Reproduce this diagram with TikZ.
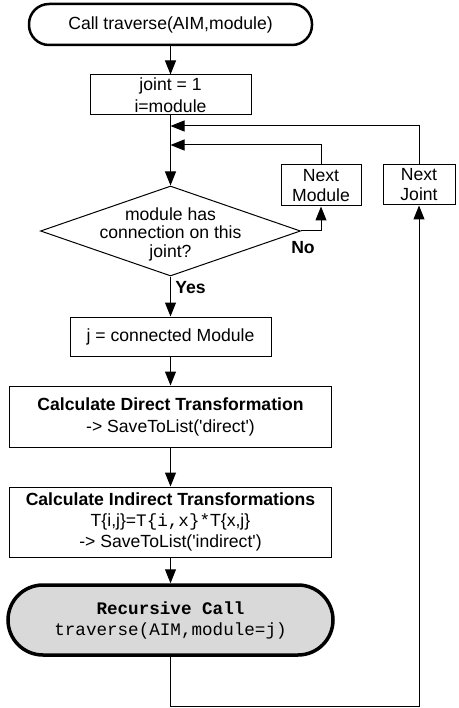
\documentclass[tikz,border=0pt]{standalone}
\usepackage{fontspec}
\setmainfont{Liberation Sans}
\setmonofont{Liberation Mono}
\usetikzlibrary{arrows.meta, shapes.geometric}

\definecolor{callgray}{HTML}{D9D9D9}

\begin{document}
\begin{tikzpicture}[x=1pt, y=-1pt, >={Triangle[length=14pt, width=11pt]}, line width=1pt,
  txt/.style={font=\fontsize{17.6}{22}\selectfont, align=center, inner sep=0pt},
  box/.style={txt, draw, line width=1pt},
  term/.style={txt, draw, line width=2.5pt, rounded corners=20pt},
  lbl/.style={font=\fontsize{17.6}{22}\selectfont\bfseries, inner sep=0pt}]

% Page
\useasboundingbox (0,0) rectangle (458,708);

% Start
\node[term, minimum width=283pt, minimum height=41pt] (start) at (170.5,24.5) {Call traverse(AIM,module)};

% Init box
\node[box, minimum width=161pt, minimum height=40pt] (init) at (170.5,95) {joint = 1\\i=module};

% Decision
\node[draw, diamond, line width=1pt, minimum width=260pt, minimum height=90pt, inner sep=0pt] (test) at (170.5,231) {};
\node[txt, font=\fontsize{17.6}{18.5}\selectfont] (testtext) at (170.5,234) {module has\\connection on this\\joint?};

% Loop boxes on the right
\node[box, minimum width=80pt, minimum height=41pt, font=\fontsize{17.6}{20}\selectfont] (nextmod) at (321,185.5) {Next\\Module};
\node[box, minimum width=72pt, minimum height=40pt, font=\fontsize{17.6}{20}\selectfont] (nextjoint) at (419,185) {Next\\Joint};

% Main column
\node[box, minimum width=201pt, minimum height=39pt] (conn) at (170.5,336.5) {j = connected Module};
\node[box, minimum width=322pt, minimum height=61pt] (direct) at (170.5,416.5)
  {\textbf{Calculate Direct Transformation}\\-> SaveToList(\textquotesingle direct\textquotesingle)};
\node[box, minimum width=322pt, minimum height=70pt, font=\fontsize{17.6}{21}\selectfont] (indirect) at (170.5,522)
  {\textbf{Calculate Indirect Transformations}\\T\{i,j\}=\texttt{T\{i,x\}*}T\{x,j\}\\-> SaveToList(\textquotesingle indirect\textquotesingle)};

% Recursive call
\node[term, fill=callgray, line width=3.5pt, rounded corners=35pt, minimum width=325pt, minimum height=70pt,
  font=\fontsize{17.6}{21}\selectfont\ttfamily] (recur) at (170.5,620)
  {\textbf{Recursive Call}\\traverse(AIM,module=j)};

% Branch labels
\node[lbl] (nolbl) at (303,248) {No};
\node[lbl] (yeslbl) at (190.5,288) {Yes};

% Join points
\coordinate (jjoint) at (170.5,126);
\coordinate (jmod) at (170.5,145);
\coordinate (loopend) at (170.5,706.5);

% Flow
\draw[->] (start) -- (init);
\draw[->] (init) -- (test);
\draw[->] (test.east) -| (nextmod.south);
\draw[->] (nextmod.north) |- (jmod);
\draw[->] (nextjoint.north) |- (jjoint);
\draw[->] (test) -- (conn);
\draw[->] (conn) -- (direct);
\draw[->] (direct) -- (indirect);
\draw[->] (indirect) -- (recur);
\draw[->] (recur.south) -- (loopend) -| (nextjoint.south);

\end{tikzpicture}
\end{document}
